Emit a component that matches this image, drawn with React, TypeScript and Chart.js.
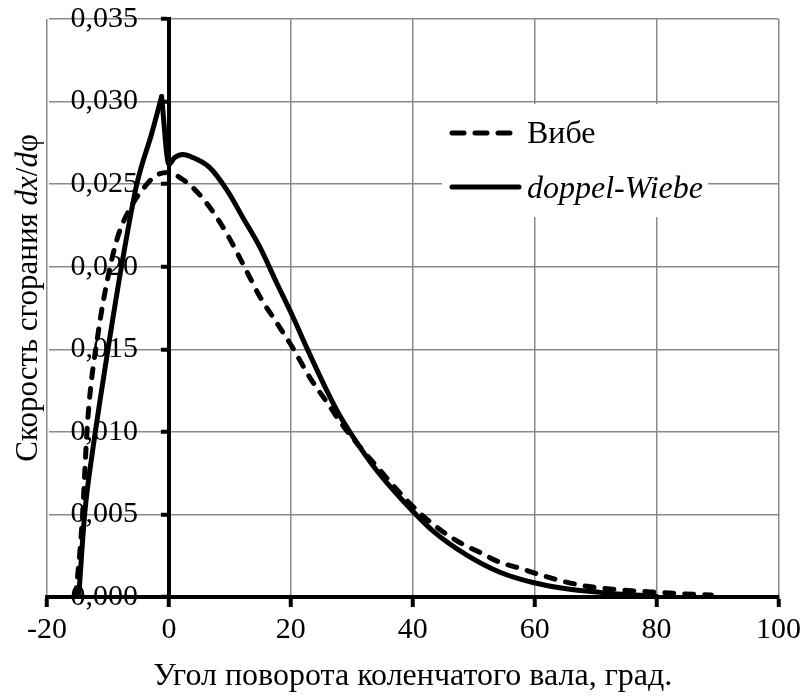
import React, { useEffect, useRef } from 'react';
import { Chart, registerables } from 'chart.js';

Chart.register(...registerables);

const FONT = '"Liberation Serif", "Times New Roman", serif';
const TICK_SIZE = 30;
const TEXT_SIZE = 32;
const YTITLE_SIZE = 31;

const xTicks = [-20, 0, 20, 40, 60, 80, 100];
const yTicks = [0, 0.005, 0.01, 0.015, 0.02, 0.025, 0.03, 0.035];
const yAxisAtX = 0;

const seriesNames = ['Вибе', 'doppel-Wiebe'];
const xTitle = 'Угол поворота коленчатого вала, град.';
const yTitleParts = [
  { t: 'Скорость сгорания ', italic: false },
  { t: 'dx', italic: true },
  { t: '/', italic: false },
  { t: 'd', italic: true },
  { t: 'φ', italic: false },
];

// Вибе (dashed)
const wiebeX = [-15.3, -14.3, -13.3, -11.6, -10.2, -8.4, -6.1, -3.6, -2.0, 0, 1.8, 3.9, 6.7, 9.5, 12.1, 14.9, 17.7, 20.3, 23.1, 25.9, 28.5, 31.3, 34.1, 37.9, 41.1, 44.4, 47.7, 51.0, 54.3, 57.5, 61.3, 65.2, 69.5, 73.4, 77.0, 80.5, 84.0, 89.0];
const wiebeY = [0, 0.0042, 0.0108, 0.016, 0.019, 0.0218, 0.0237, 0.025, 0.02555, 0.0257, 0.0254, 0.0248, 0.0236, 0.022, 0.0202, 0.0182, 0.0166, 0.0151, 0.0133, 0.0118, 0.0104, 0.0091, 0.0079, 0.0063, 0.0051, 0.0041, 0.0033, 0.0027, 0.0021, 0.00175, 0.0013, 0.0009, 0.0006, 0.00045, 0.00035, 0.00028, 0.0002, 0.00012];

// doppel-Wiebe (solid)
const doppelX = [-14.8, -13.8, -12.5, -11.3, -10.0, -7.7, -5.2, -2.8, -1.2, 0, 0.9, 2.3, 4.0, 6.7, 9.5, 12.1, 14.9, 17.7, 20.3, 22.6, 25.9, 28.0, 30.2, 34.0, 38.2, 43.3, 48.8, 54.3, 59.7, 65.2, 70.7, 75.0, 80.0];
const doppelY = [0, 0.0051, 0.0089, 0.0119, 0.015, 0.0202, 0.0251, 0.0281, 0.0303, 0.0262, 0.0266, 0.0268, 0.0266, 0.026, 0.02465, 0.023, 0.0212, 0.019, 0.017, 0.0151, 0.0125, 0.011, 0.0097, 0.0077, 0.0059, 0.004, 0.00255, 0.0015, 0.00088, 0.0005, 0.00028, 0.00015, 0.00005];
const doppelPeakIndex = 8;

const toPoints = (xs: number[], ys: number[]) => xs.map((x, i) => ({ x, y: ys[i] }));

const GRID = '#8a8a8a';

const decorPlugin = {
  id: 'decor',
  afterLayout(chart: any) {
    // place the y axis on the x = 0 line, inside the plot area
    const y = chart.scales.y;
    const px = chart.scales.x.getPixelForValue(yAxisAtX);
    y.left = 0;
    y.right = px;
  },
  afterDraw(chart: any) {
    const { ctx, chartArea } = chart;
    ctx.save();
    // Legend box
    const lx = chartArea.left + 395;
    const ly = chartArea.top + 85;
    ctx.fillStyle = '#ffffff';
    ctx.fillRect(lx, ly, 266, 113);
    ctx.strokeStyle = '#000';
    ctx.lineWidth = 5;
    ctx.lineCap = 'round';
    // dashed sample
    ctx.setLineDash([12, 11]);
    ctx.beginPath();
    ctx.moveTo(lx + 10, ly + 29);
    ctx.lineTo(lx + 70, ly + 29);
    ctx.stroke();
    // solid sample
    ctx.setLineDash([]);
    ctx.beginPath();
    ctx.moveTo(lx + 10, ly + 83);
    ctx.lineTo(lx + 77, ly + 83);
    ctx.stroke();
    ctx.fillStyle = '#000';
    ctx.textBaseline = 'alphabetic';
    ctx.textAlign = 'left';
    ctx.font = `${TEXT_SIZE}px ${FONT}`;
    ctx.fillText(seriesNames[0], lx + 85, ly + 39);
    ctx.font = `italic ${TEXT_SIZE}px ${FONT}`;
    ctx.fillText(seriesNames[1], lx + 85, ly + 94);

    // X title
    ctx.font = `${TEXT_SIZE}px ${FONT}`;
    ctx.textAlign = 'center';
    ctx.textBaseline = 'alphabetic';
    ctx.fillText(xTitle, (chartArea.left + chartArea.right) / 2, chartArea.bottom + 88);

    // Y title (mixed italic)
    ctx.translate(37, (chartArea.top + chartArea.bottom) / 2 - 10);
    ctx.rotate(-Math.PI / 2);
    ctx.textAlign = 'left';
    let total = 0;
    const widths = yTitleParts.map((p) => {
      ctx.font = `${p.italic ? 'italic ' : ''}${YTITLE_SIZE}px ${FONT}`;
      const w = ctx.measureText(p.t).width;
      total += w;
      return w;
    });
    let cx = -total / 2;
    yTitleParts.forEach((p, i) => {
      ctx.font = `${p.italic ? 'italic ' : ''}${YTITLE_SIZE}px ${FONT}`;
      ctx.fillText(p.t, cx, 0);
      cx += widths[i];
    });
    ctx.restore();
  },
};

export default function App() {
  const ref = useRef<HTMLCanvasElement>(null);
  useEffect(() => {
    if (!ref.current) return;
    const lineCommon = {
      pointRadius: 0,
      borderColor: '#000',
      borderWidth: 5,
      borderCapStyle: 'round' as const,
      borderJoinStyle: 'round' as const,
      cubicInterpolationMode: 'monotone' as const,
      fill: false,
    };
    const chart = new Chart(ref.current, {
      type: 'line',
      data: {
        datasets: [
          {
            ...lineCommon,
            label: seriesNames[0],
            data: toPoints(wiebeX, wiebeY),
            borderDash: [9, 11],
          },
          {
            ...lineCommon,
            label: seriesNames[1],
            data: toPoints(doppelX.slice(0, doppelPeakIndex + 1), doppelY.slice(0, doppelPeakIndex + 1)),
          },
          {
            ...lineCommon,
            label: seriesNames[1] + ' ',
            data: toPoints(doppelX.slice(doppelPeakIndex), doppelY.slice(doppelPeakIndex)),
          },
        ],
      },
      options: {
        responsive: false,
        animation: false,
        layout: { padding: { left: 47, right: 27, top: 19, bottom: 0 } },
        plugins: {
          legend: { display: false },
          tooltip: { enabled: false },
        },
        scales: {
          x: {
            type: 'linear',
            position: 'bottom',
            min: -20,
            max: 100,
            afterBuildTicks: (s: any) => {
              s.ticks = xTicks.map((v) => ({ value: v }));
            },
            afterFit: (s: any) => {
              s.height = 100;
            },
            grid: {
              color: (c: any) => (c.tick && c.tick.value === 0 ? 'rgba(0,0,0,0)' : GRID),
              lineWidth: 1.5,
              tickColor: '#000',
              tickLength: 10,
              tickWidth: 4,
            },
            border: { color: '#000', width: 4 },
            ticks: {
              color: '#000',
              font: { family: FONT, size: TICK_SIZE },
              padding: 5,
              maxRotation: 0,
              autoSkip: false,
              callback: (v: any) => String(v),
            },
          },
          y: {
            type: 'linear',
            position: 'left',
            min: 0,
            max: 0.035,
            afterBuildTicks: (s: any) => {
              s.ticks = yTicks.map((v) => ({ value: v }));
            },
            afterFit: (s: any) => {
              s.width = 0;
              s.paddingTop = 0;
              s.paddingBottom = 0;
            },
            grid: {
              color: (c: any) => (c.tick && c.tick.value === 0 ? 'rgba(0,0,0,0)' : GRID),
              lineWidth: 1.5,
              tickColor: '#000',
              tickLength: 8,
              tickWidth: 4,
            },
            border: { color: '#000', width: 4 },
            ticks: {
              color: '#000',
              font: { family: FONT, size: TICK_SIZE },
              padding: 23,
              autoSkip: false,
              callback: (v: any) => Number(v).toFixed(3).replace('.', ','),
            },
          },
        },
      },
      plugins: [decorPlugin],
    });
    return () => chart.destroy();
  }, []);
  return (
    <div style={{ position: 'fixed', left: 0, top: 0, width: 806, height: 697, background: '#fff' }}>
      <canvas ref={ref} width={806} height={697} style={{ display: 'block' }} />
    </div>
  );
}
